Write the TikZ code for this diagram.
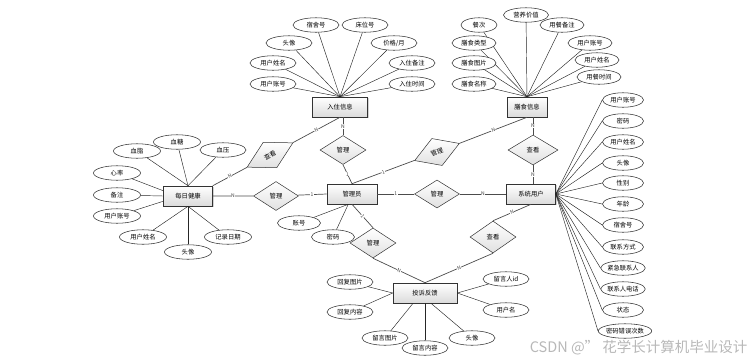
\documentclass[tikz,border=0pt]{standalone}
\usepackage{fontspec}
\setmainfont{Noto Sans CJK SC}
\usetikzlibrary{shapes.geometric,shadows}
\begin{document}
\begin{tikzpicture}[x=1pt,y=-1pt,
 every node/.style={font=\fontsize{6.3}{7}\selectfont},
 ent/.style={draw=black!80, line width=0.6pt, top color=white, bottom color=black!14, minimum height=20pt, inner sep=1pt,
   drop shadow={shadow xshift=1.2pt, shadow yshift=-1.2pt, opacity=0.35}},
 rel/.style={diamond, draw=black!80, line width=0.5pt, top color=white, bottom color=black!12, minimum width=46pt, minimum height=29pt, inner sep=0pt},
 att/.style={ellipse, draw=black!80, line width=0.55pt, fill=white, minimum width=46pt, minimum height=14.5pt, inner sep=0pt},
 card/.style={fill=white, inner sep=0.4pt, font=\fontsize{5}{5}\selectfont, text=black!75},
 al/.style={draw=black!85, line width=0.45pt},
 rl/.style={draw=black!70, line width=0.7pt},
]
\useasboundingbox (0,0) rectangle (754,362);

% entities
\node[ent, minimum width=55pt] (rz) at (340,107) {入住信息};
\node[ent, minimum width=40pt] (sf) at (527,107) {膳食信息};
\node[ent, minimum width=49pt] (mr) at (188,196) {每日健康};
\node[ent, minimum width=50pt] (gly) at (352,194) {管理员};
\node[ent, minimum width=49pt] (xt) at (531,194) {系统用户};
\node[ent, minimum width=64pt] (ts) at (425,293) {投诉反馈};

% relationships
\node[rel, rotate=28, minimum width=52pt] (r1) at (270,155) {查看};
\node[rel] (r2) at (343,150) {管理};
\node[rel, rotate=21, minimum width=48pt] (r3) at (437,152) {管理};
\node[rel, minimum width=50pt, minimum height=30pt] (r4) at (533,150) {查看};
\node[rel, minimum width=45pt] (r5) at (276,196) {管理};
\node[rel, minimum width=45pt, minimum height=28pt] (r6) at (437,194) {管理};
\node[rel, minimum height=30pt] (r7) at (373,243) {管理};
\node[rel, minimum height=32pt] (r8) at (493,237) {查看};

% relationship lines
\draw[rl] (mr.north east) -- node[card,sloped]{N} (r1) -- node[card,sloped]{N} (rz.south);
\draw[rl] (r2.north |- rz.south) -- node[card]{N} (r2.north);
\draw[rl] (r2.south) -- node[card]{1} (gly.north);
\draw[rl] (gly.north) -- node[card,sloped]{1} (r3) -- node[card,sloped]{N} (sf.south);
\draw[rl] (r4.north |- sf.south) -- node[card]{N} (r4.north);
\draw[rl] (r4.south) -- node[card]{N} (r4.south |- xt.north);
\draw[rl] (mr.east) -- node[card]{N} (r5) -- node[card]{1} (gly.west);
\draw[rl] (gly.east) -- node[card]{1} (r6) -- node[card]{N} (xt.west);
\draw[rl] (gly.south) -- node[card,sloped]{1} (r7.north);
\draw[rl] (r7.south) -- node[card,sloped]{N} (ts.north);
\draw[rl] (xt.south) -- node[card,sloped]{N} (r8.north);
\draw[rl] (r8.south) -- node[card,sloped]{N} (ts.north);

% 入住信息 attributes
\foreach \n/\x/\y/\t in {a1/316/25/宿舍号, a2/365/25/床位号, a3/289/43/头像, a4/394/43/{价格/月},
  a5/273/63/用户姓名, a6/412/63/入住备注, a7/273/84/用户账号, a8/412/84/入住时间}{
  \node[att] (\n) at (\x,\y) {\t};
  \draw[al] (\n) -- (rz.north);
}

% 膳食信息 attributes
\foreach \n/\x/\y/\t/\w in {b1/526/15/营养价值/45, b2/479/25/餐次/36, b3/562/25/用餐备注/44, b4/474/43/膳食类型/44,
  b5/590/43/用户账号/44, b6/474/63/膳食图片/44, b7/597/60/用户姓名/44, b8/474/84/膳食名称/44, b9/599/77/用餐时间/44}{
  \node[att, minimum width=\w pt] (\n) at (\x,\y) {\t};
  \draw[al] (\n) -- (sf.north);
}

% 每日健康 attributes
\node[att, minimum width=47pt] (c1) at (137,151) {血脂};
\node[att, minimum width=47pt] (c2) at (177,142) {血糖};
\node[att, minimum width=46pt] (c3) at (223,150) {血压};
\node[att, minimum width=47pt] (c4) at (117,173) {心率};
\node[att, minimum width=47pt] (c5) at (117,195) {备注};
\node[att, minimum width=47pt] (c6) at (117,216) {用户账号};
\node[att, minimum width=47pt] (c7) at (143,237) {用户姓名};
\node[att, minimum width=47pt] (c8) at (188,252) {头像};
\node[att, minimum width=47pt] (c9) at (228,237) {记录日期};
\foreach \n in {c1,c2,c3} \draw[al] (\n) -- (mr.north);
\draw[al] (c4) -- (mr.168);
\draw[al] (c5) -- (mr.west);
\draw[al] (c6) -- (mr.192);
\foreach \n in {c7,c8,c9} \draw[al] (\n) -- (mr.south);

% 管理员 attributes
\node[att, minimum width=43pt] (d1) at (299,223) {账号};
\node[att, minimum width=43pt] (d2) at (333,237) {密码};
\draw[al] (d1) -- (gly.250);
\draw[al] (d2) -- (gly.250);

% 系统用户 attributes
\foreach \n/\y/\t in {e1/100/用户账号, e2/121/密码, e3/142/用户姓名, e4/163/头像, e5/183/性别, e6/204/年龄,
  e7/225/宿舍号, e8/247/联系方式, e9/268/紧急联系人, e10/289/联系人电话, e11/310/状态}{
  \node[att, minimum width=41pt] (\n) at (623,\y) {\t};
  \draw[al] (xt.east) -- (\n.west);
}
\node[att, minimum width=44pt] (e12) at (625,331) {密码错误次数};
\draw[al] (xt.east) -- (e12.west);

% 投诉反馈 attributes
\node[att] (f1) at (350,282) {回复图片};
\node[att] (f2) at (350,312) {回复内容};
\node[att] (f3) at (506,279) {留言人id};
\node[att] (f4) at (506,310) {用户名};
\node[att] (f5) at (385,338) {留言图片};
\node[att] (f6) at (425,348) {留言内容};
\node[att] (f7) at (472,338) {头像};
\draw[al] (f1) -- (ts.west);
\draw[al] (f2) -- (ts.west);
\draw[al] (f3) -- (ts.east);
\draw[al] (f4) -- (ts.east);
\draw[al] (f5) -- ([xshift=-12pt]ts.south);
\draw[al] (f6) -- (ts.south);
\draw[al] (f7) -- ([xshift=6pt]ts.south);

% watermark
\node[font=\fontsize{14.5}{15}\selectfont, text=black!28, anchor=east] (wm) at (751,348) {CSDN @" 花学长计算机毕业设计};
\end{tikzpicture}
\end{document}
